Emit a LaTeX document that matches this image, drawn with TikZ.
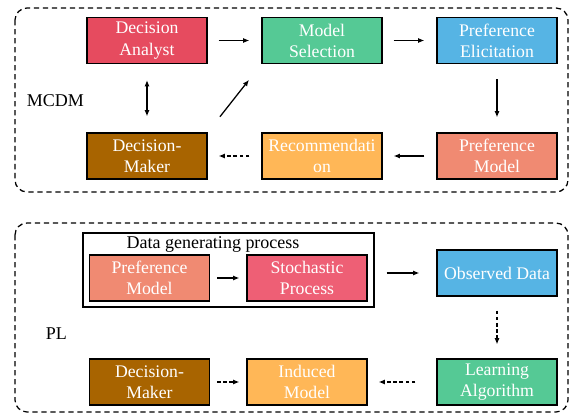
\documentclass[tikz,border=0pt]{standalone}
\usepackage{fontspec}
\setmainfont{Liberation Serif}
\usetikzlibrary{arrows.meta}

\definecolor{boxred}{HTML}{E64B5F}
\definecolor{boxgreen}{HTML}{55C995}
\definecolor{boxblue}{HTML}{56B4E4}
\definecolor{boxsalmon}{HTML}{F08A72}
\definecolor{boxorange}{HTML}{FFB757}
\definecolor{boxbrown}{HTML}{A86400}
\definecolor{boxpink}{HTML}{EE5F75}

\tikzset{
  box/.style={draw=black, line width=0.8pt, text=white, align=center,
    minimum width=3cm, minimum height=1.15cm, inner sep=0pt,
    font=\rmfamily\fontsize{12.6}{15}\selectfont},
  tag/.style={font=\rmfamily\fontsize{12.8}{15}\selectfont},
  arr/.style={-{Latex[length=0.16cm, width=0.13cm]}, line width=0.9pt},
  darr/.style={arr, dash pattern=on 2.6pt off 1.8pt},
  frame/.style={line width=0.9pt, rounded corners=0.3cm, dash pattern=on 3.8pt off 2.6pt}
}

\begin{document}
\begin{tikzpicture}[x=0.025cm, y=-0.025cm]
  \useasboundingbox (0,0) rectangle (573,414);

  % MCDM
  \draw[frame] (15,8) rectangle (568,192);
  \node[tag, anchor=west] (mcdm) at (22,101) {MCDM};

  \node[box, fill=boxred] (analyst) at (147,40.5) {Decision\\Analyst};
  \node[box, fill=boxgreen] (selection) at (322,40.5) {Model\\Selection};
  \node[box, fill=boxblue] (elicitation) at (497,40.5) {Preference\\Elicitation};
  \node[box, fill=boxsalmon] (prefmodel) at (497,156) {Preference\\Model};
  \node[box, fill=boxorange] (recommend) at (322,156) {Recommendati\\on};
  \node[box, fill=boxbrown] (maker) at (147,156) {Decision-\\Maker};

  \draw[arr, shorten <=0.275cm, shorten >=0.3cm] (analyst) -- (selection);
  \draw[arr, shorten <=0.275cm, shorten >=0.3cm] (selection) -- (elicitation);
  \draw[arr, shorten <=0.375cm, shorten >=0.375cm] (elicitation) -- (prefmodel);
  \draw[arr, shorten <=0.3cm, shorten >=0.275cm] (prefmodel) -- (recommend);
  \draw[darr, shorten <=0.3cm, shorten >=0.275cm] (recommend) -- (maker);
  \draw[{Latex[length=0.16cm, width=0.13cm]}-{Latex[length=0.16cm, width=0.13cm]}, line width=0.9pt,
    shorten <=0.4cm, shorten >=0.4cm] (analyst) -- (maker);
  \draw[arr, shorten <=0.5cm, shorten >=0.5cm] (maker.north east) -- (selection.south west);

  % PL
  \draw[frame] (15,223) rectangle (568,412);
  \node[tag, anchor=west] (pl) at (41,334) {PL};

  \node[draw=black, line width=0.8pt, minimum width=7.275cm, minimum height=1.85cm] (dgp) at (228.5,270) {};
  \node[tag] (dgptitle) at (213,244) {Data generating process};

  \node[box, fill=boxsalmon] (plpref) at (149.5,278) {Preference\\Model};
  \node[box, fill=boxpink] (stoch) at (307,278) {Stochastic\\Process};
  \node[box, fill=boxblue] (observed) at (497,273) {Observed Data};
  \node[box, fill=boxgreen] (learning) at (497,382) {Learning\\Algorithm};
  \node[box, fill=boxorange] (induced) at (307,382) {Induced\\Model};
  \node[box, fill=boxbrown] (plmaker) at (149.5,382) {Decision-\\Maker};

  \draw[arr, shorten <=0.3cm, shorten >=0.425cm] (dgp.east |- observed) -- (observed);
  \draw[arr, shorten <=0.175cm, shorten >=0.175cm] (plpref) -- (stoch);
  \draw[darr, shorten <=0.35cm, shorten >=0.35cm] (observed) -- (learning);
  \draw[darr, shorten <=0.525cm, shorten >=0.275cm] (learning) -- (induced);
  \draw[darr, shorten <=0.175cm, shorten >=0.175cm] (plmaker) -- (induced);
\end{tikzpicture}
\end{document}
